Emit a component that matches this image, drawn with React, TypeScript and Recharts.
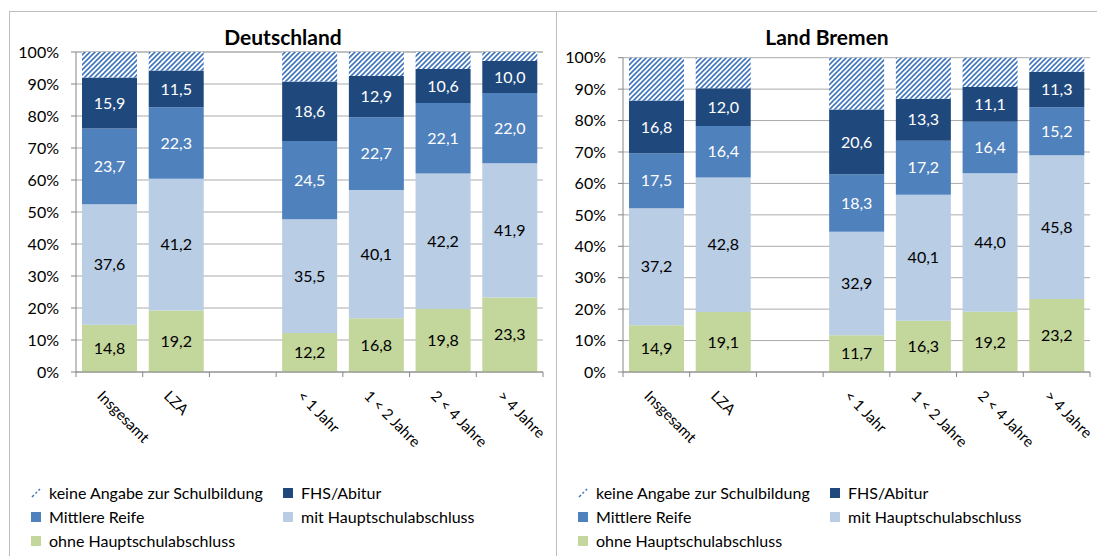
import { BarChart, Bar, XAxis, YAxis, CartesianGrid, LabelList } from "recharts";

const categories = ["Insgesamt", "LZA", "", "< 1 Jahr", "1 < 2 Jahre", "2 < 4 Jahre", "> 4 Jahre"];
const yTicks = [0, 10, 20, 30, 40, 50, 60, 70, 80, 90, 100];

// Deutschland
const deOhne = [14.8, 19.2, null, 12.2, 16.8, 19.8, 23.3];
const deMit = [37.6, 41.2, null, 35.5, 40.1, 42.2, 41.9];
const deMittlere = [23.7, 22.3, null, 24.5, 22.7, 22.1, 22.0];
const deFhs = [15.9, 11.5, null, 18.6, 12.9, 10.6, 10.0];
const deKeine = [8.0, 5.8, null, 9.2, 7.5, 5.3, 2.8];

// Land Bremen
const hbOhne = [14.9, 19.1, null, 11.7, 16.3, 19.2, 23.2];
const hbMit = [37.2, 42.8, null, 32.9, 40.1, 44.0, 45.8];
const hbMittlere = [17.5, 16.4, null, 18.3, 17.2, 16.4, 15.2];
const hbFhs = [16.8, 12.0, null, 20.6, 13.3, 11.1, 11.3];
const hbKeine = [13.6, 9.7, null, 16.5, 13.1, 9.3, 4.5];

const seriesNames = {
  ohne: "ohne Hauptschulabschluss",
  mit: "mit Hauptschulabschluss",
  mittlere: "Mittlere Reife",
  fhs: "FHS/Abitur",
  keine: "keine Angabe zur Schulbildung",
};

const colors = {
  ohne: "#C3D69B",
  mit: "#B9CDE5",
  mittlere: "#4F81BD",
  fhs: "#1F497D",
  hatch: "#3F75BE",
};

const axisGray = "#868686";
const gridGray = "#ABABAB";
const frameGray = "#BDBDBD";
const font = "Lato, 'Open Sans', sans-serif";

const fmt = (v: any) => (v == null ? "" : Number(v).toFixed(1).replace(".", ","));

function buildRows(ohne: any[], mit: any[], mittlere: any[], fhs: any[], keine: any[]) {
  return categories.map((name, i) => ({
    name,
    ohne: ohne[i],
    mit: mit[i],
    mittlere: mittlere[i],
    fhs: fhs[i],
    keine: keine[i],
  }));
}

function CatTick(props: any) {
  const { x, y, payload, index } = props;
  const off = payload?.offset ?? 33.4;
  const last = index === categories.length - 1;
  const tx = x - 13;
  const ty = y + 25;
  return (
    <g>
      <line x1={x - off} y1={y} x2={x - off} y2={y + 5} stroke={axisGray} />
      {last && <line x1={x + off} y1={y} x2={x + off} y2={y + 5} stroke={axisGray} />}
      <text
        x={tx}
        y={ty}
        transform={`rotate(45 ${tx} ${ty})`}
        textAnchor="start"
        fontSize={15}
        fill="#000"
      >
        {payload.value}
      </text>
    </g>
  );
}

function LegendBlock() {
  const items: [string, string][] = [
    ["keine", seriesNames.keine],
    ["fhs", seriesNames.fhs],
    ["mittlere", seriesNames.mittlere],
    ["mit", seriesNames.mit],
    ["ohne", seriesNames.ohne],
  ];
  return (
    <div
      style={{
        display: "grid",
        gridTemplateColumns: "252px 260px",
        rowGap: 4,
        fontSize: 16,
        lineHeight: "20px",
        color: "#000",
      }}
    >
      {items.map(([k, label]) => (
        <div key={k} style={{ display: "flex", alignItems: "center" }}>
          <svg width={14} height={10} style={{ marginRight: 4 }}>
            {k === "keine" ? (
              <path d="M1,9 L3,7 M4.5,5.5 L6,4 M7.5,2.5 L9,1" stroke={colors.hatch} strokeWidth={1.5} />
            ) : (
              <rect x={0} y={0} width={10} height={10} fill={(colors as any)[k]} />
            )}
          </svg>
          <span>{label}</span>
        </div>
      ))}
    </div>
  );
}

function Panel({
  title,
  rows,
  hatchId,
  width,
  marginTop,
  marginRight,
}: {
  title: string;
  rows: any[];
  hatchId: string;
  width: number;
  marginTop: number;
  marginRight: number;
}) {
  return (
    <div style={{ position: "relative", width, height: 543 }}>
      <div
        style={{
          position: "absolute",
          top: 12,
          left: 0,
          width,
          textAlign: "center",
          fontWeight: 700,
          fontSize: 21,
        }}
      >
        {title}
      </div>
      <BarChart
        width={width}
        height={470}
        data={rows}
        margin={{ top: marginTop, right: marginRight, bottom: 0, left: 0 }}
        barCategoryGap="9%"
      >
        <defs>
          <pattern id={hatchId} patternUnits="userSpaceOnUse" width={5} height={5}>
            <rect x={0} y={0} width={5} height={5} fill="#fff" />
            <path d="M-1,1 L1,-1 M0,5 L5,0 M4,6 L6,4" stroke={colors.hatch} strokeWidth={1.6} />
          </pattern>
        </defs>
        <CartesianGrid vertical={false} stroke={gridGray} />
        <XAxis
          dataKey="name"
          interval={0}
          height={110}
          tickLine={false}
          tickSize={0}
          tickMargin={0}
          axisLine={{ stroke: axisGray }}
          tick={<CatTick />}
        />
        <YAxis
          width={66}
          domain={[0, 100]}
          ticks={yTicks}
          interval={0}
          tickFormatter={(v) => `${v}%`}
          tickSize={5}
          tickMargin={12}
          axisLine={{ stroke: axisGray }}
          tickLine={{ stroke: axisGray }}
          tick={{ fill: "#000", fontSize: 16 }}
        />
        <Bar dataKey="ohne" name={seriesNames.ohne} stackId="a" fill={colors.ohne} isAnimationActive={false}>
          <LabelList dataKey="ohne" position="center" formatter={fmt} fill="#000" fontSize={16} />
        </Bar>
        <Bar dataKey="mit" name={seriesNames.mit} stackId="a" fill={colors.mit} isAnimationActive={false}>
          <LabelList dataKey="mit" position="center" formatter={fmt} fill="#000" fontSize={16} />
        </Bar>
        <Bar dataKey="mittlere" name={seriesNames.mittlere} stackId="a" fill={colors.mittlere} isAnimationActive={false}>
          <LabelList dataKey="mittlere" position="center" formatter={fmt} fill="#fff" fontSize={16} />
        </Bar>
        <Bar dataKey="fhs" name={seriesNames.fhs} stackId="a" fill={colors.fhs} isAnimationActive={false}>
          <LabelList dataKey="fhs" position="center" formatter={fmt} fill="#fff" fontSize={16} />
        </Bar>
        <Bar dataKey="keine" name={seriesNames.keine} stackId="a" fill={`url(#${hatchId})`} isAnimationActive={false} />
      </BarChart>
      <div style={{ position: "absolute", top: 471, left: 21 }}>
        <LegendBlock />
      </div>
    </div>
  );
}

export default function App() {
  const deRows = buildRows(deOhne, deMit, deMittlere, deFhs, deKeine);
  const hbRows = buildRows(hbOhne, hbMit, hbMittlere, hbFhs, hbKeine);
  return (
    <div style={{ position: "relative", width: 1097, height: 556, overflow: "hidden", fontFamily: font }}>
      <style>{`body { margin: 0; } .recharts-surface { overflow: visible; }`}</style>
      <div
        style={{
          position: "absolute",
          left: 9,
          top: 11,
          width: 547,
          height: 545,
          borderLeft: `1px solid ${frameGray}`,
          borderTop: `1px solid ${frameGray}`,
          boxSizing: "border-box",
        }}
      >
        <Panel title="Deutschland" rows={deRows} hatchId="hatch-de" width={546} marginTop={40} marginRight={13} />
      </div>
      <div
        style={{
          position: "absolute",
          left: 556,
          top: 11,
          width: 541,
          height: 545,
          borderLeft: `1px solid ${frameGray}`,
          borderTop: `1px solid ${frameGray}`,
          boxSizing: "border-box",
        }}
      >
        <Panel title="Land Bremen" rows={hbRows} hatchId="hatch-hb" width={540} marginTop={45.7} marginRight={7} />
      </div>
    </div>
  );
}
